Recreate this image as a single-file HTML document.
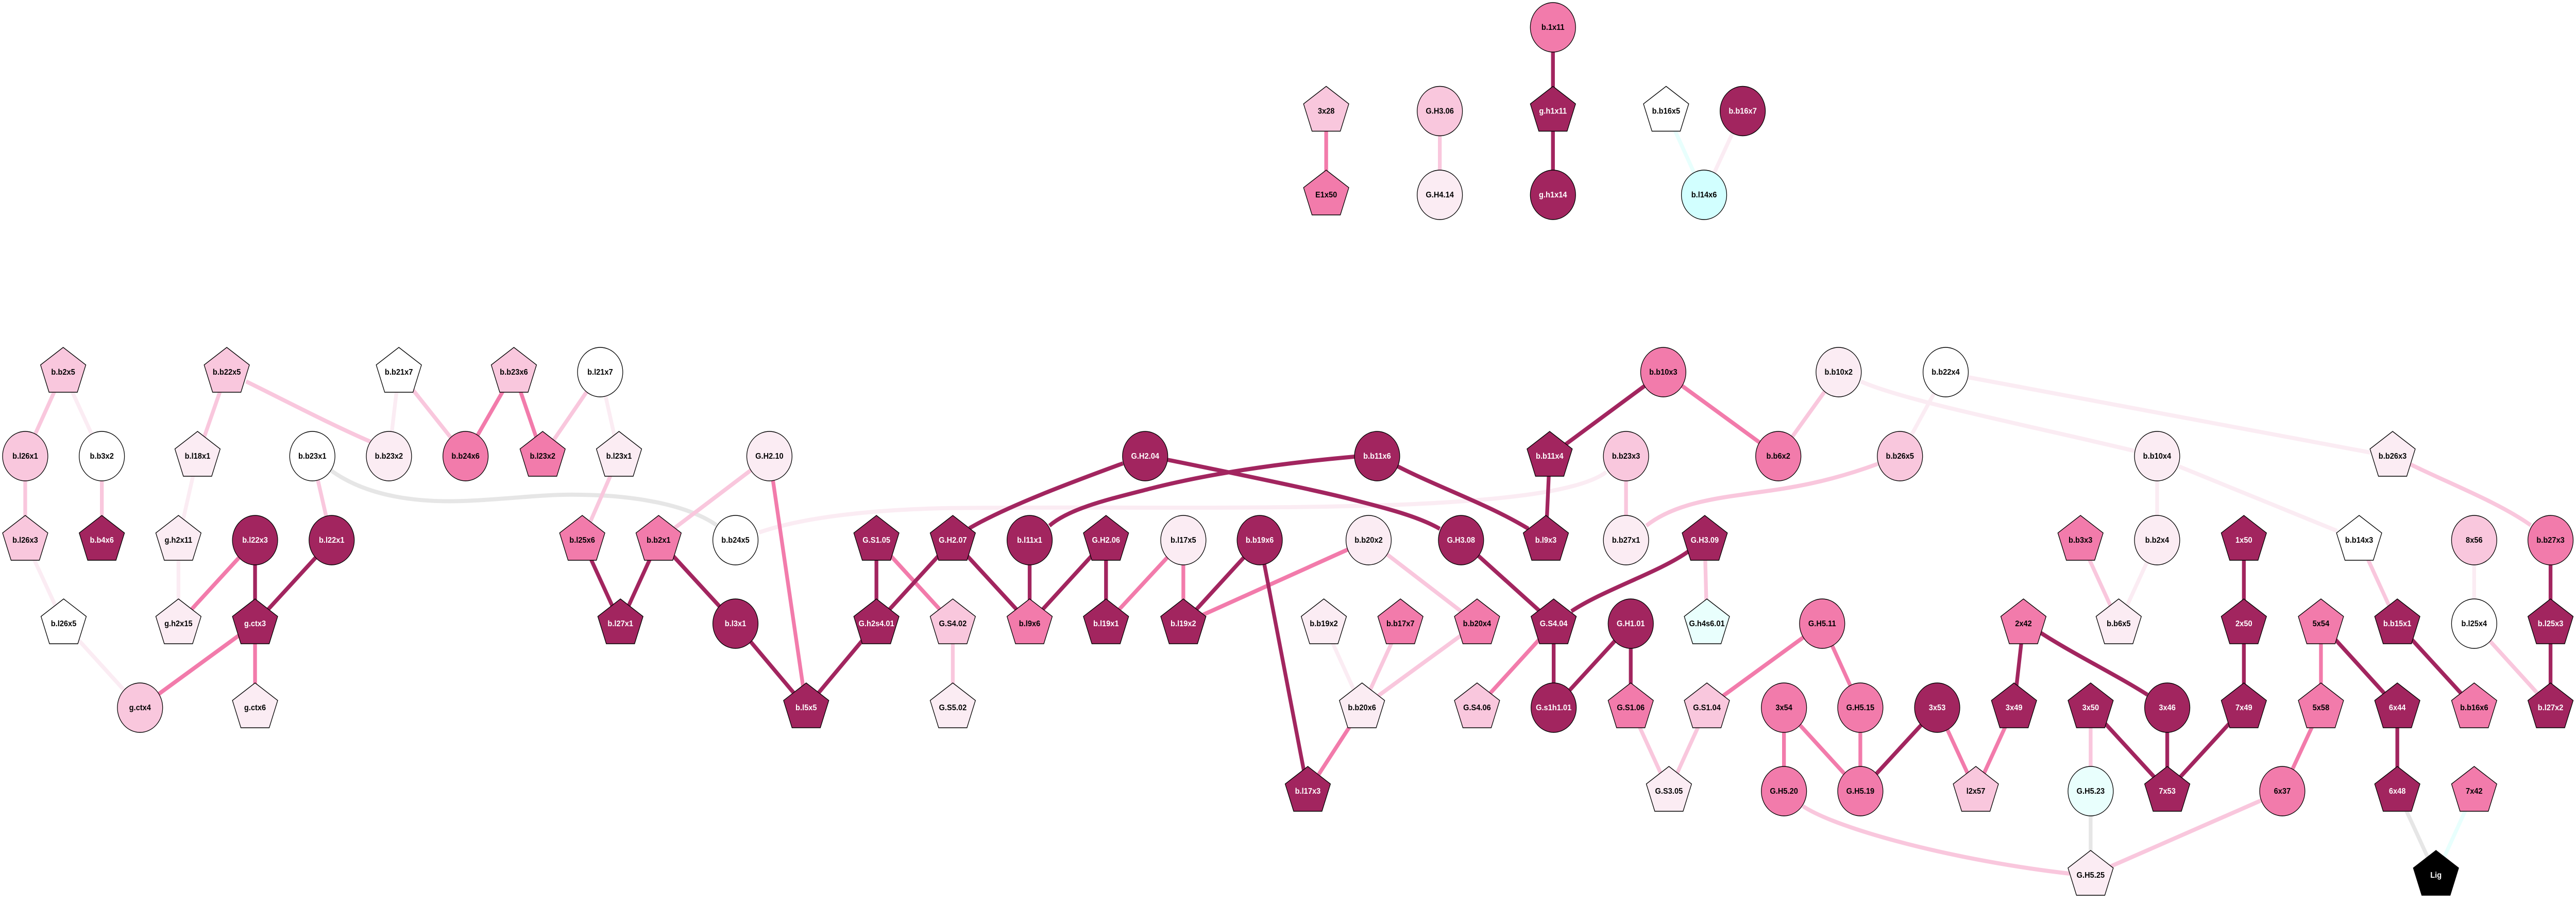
<!DOCTYPE html>
<html><head><meta charset="utf-8">
<style>
html,body{margin:0;padding:0;background:#fff;overflow:hidden;width:100%;height:100%}
svg{display:block;width:100vw;height:100vh}
text{font-family:"Liberation Sans",Arial,sans-serif;font-weight:700;font-size:16px;text-anchor:middle;fill:#000}
.e{fill:none;stroke-width:8}
.n{stroke:#000;stroke-width:1.4}
.d{fill:#a2255f}.k{fill:#f27bab}.l{fill:#f9c7dd}.p{fill:#fbecf3}.w{fill:#fff}.c{fill:#d2ffff}.m{fill:#e9fffd}.b{fill:#000}
text.t{fill:#fff}
</style></head><body>
<svg xmlns="http://www.w3.org/2000/svg" viewBox="0 0 5464 1752" preserveAspectRatio="none">
<rect width="5464" height="1752" fill="#fff"/>
<defs>
<polygon id="q" points="0,-48 48,-14 30,39 -30,39 -48,-14"/>
<circle id="o" r="48"/>
</defs>

<path class="e" stroke="#e6e6e6" d="M701 912C780 965 890 975 982 972C1065 970 1150 958 1232 960C1330 961 1450 975 1520 1019M4434.5 1535L4434.5 1698M5085 1535L5167 1698"/>
<path class="e" stroke="#e8fffd" d="M3534 215.5L3614.5 378M5248 1535L5167 1698"/>
<path class="e" stroke="#fbecf3" d="M3696.5 215.5L3614.5 378M134 722L216 885M53.5 1048L135 1210M135 1210L297 1373M419 885L378.5 1048M378.5 1048L378.5 1210M846 722L825 885M1273 722L1313 885M1610 1033C1700 1005 1830 990 2000 986C2300 982 2700 990 3000 978C3180 970 3350 955 3407 916M2808 1210L2889 1373M3947 740C4040 778 4300 825 4528 875M4127 722L4030 885M4175 732L5028 878M4575.5 885L4575.5 1048M4622 905L4957 1030M4575.5 1048L4494 1210M5248 1048L5248 1210"/>
<path class="e" stroke="#f9c7dd" d="M3054 215.5L3054 378M134 722L53.5 885M53.5 885L53.5 1048M216 885L216 1048M481 722L419 885M522 740C600 775 700 823 786 857M662.5 885L703.5 1048M846 722L987.5 885M1273 722L1151 885M1313 885L1235 1048M1632 885L1397 1048M2021 1210L2021 1373M2903 1048L3133 1210M2970.5 1210L2889 1373M3133 1210L2889 1373M3772 885L3900 722M3449 885L3449 1048M3983 900C3850 945 3760 950 3693 960C3610 970 3540 985 3492 1020M3616 1048L3620.5 1210M3459 1373L3540 1535M3620.5 1373L3540 1535M3824 1564C3900 1610 4150 1670 4390 1695M4841 1535L4434.5 1698M4413 1048L4494 1210M4434.5 1373L4434.5 1535M5004 1048L5085 1210M5248 1210L5410 1373M5113 901C5200 940 5300 975 5368 1019"/>
<path class="e" stroke="#f27bab" d="M2813 215.5L2813 378M541 1048L378.5 1210M541 1210L297 1373M541 1210L541 1373M1090 722L987.5 885M1090 722L1151 885M1632 885L1710 1373M1859 1048L2021 1210M2510 1048L2346 1210M2510 1048L2510 1210M2903 1048L2510 1210M2889 1373L2774 1535M3528 722L3772 885M3295.5 1210L3133 1373M3865 1210L3620.5 1373M3865 1210L3946 1373M3946 1373L3946 1535M3784 1373L3946 1535M3784 1373L3784 1535M4109 1373L4191 1535M4272 1373L4191 1535M4923 1210L4923 1373M4923 1373L4841 1535"/>
<path class="e" stroke="#a2255f" d="M3294 53L3294 215.5L3294 378M541 1048L541 1210M703.5 1048L541 1210M1235 1048L1316 1210M1397 1048L1316 1210M1397 1048L1560 1210L1710 1373M1859 1210L1710 1373M1859 1048L1859 1210M2021 1048L1859 1210M2021 1048L2184 1210M2382 899C2290 930 2140 980 2056 1025M2476 892C2600 915 2760 945 2850 965C2950 988 3010 1003 3054 1026M2873 886C2700 900 2560 920 2440 948C2360 967 2270 985 2226 1020M2184 1048L2184 1210M2346 1048L2184 1210M2346 1048L2346 1210M2672 1048L2510 1210M2672 1048L2774 1535M2965 905C3050 945 3160 980 3242 1026M3287 885L3279 1048M3528 722L3287 885M3099 1048L3295.5 1210M3581 1070C3520 1110 3400 1145 3333 1186M3295.5 1210L3295.5 1373M3459 1210L3295.5 1373M3459 1210L3459 1373M4109 1373L3946 1535M4292 1210L4272 1373M4329 1228C4400 1270 4490 1310 4555 1348M4434.5 1373L4597 1535M4597 1373L4597 1535M4759.5 1373L4597 1535M4759.5 1048L4759.5 1373M4923 1210L5085 1373M5085 1373L5085 1535M5085 1210L5248 1373M5410 1048L5410 1373"/>

<use href="#q" x="2813" y="215.5" class="n l"/><text x="2813" y="220.5">3x28</text>
<use href="#q" x="2813" y="378" class="n k"/><text x="2813" y="383">E1x50</text>
<use href="#o" x="3054" y="215.5" class="n l"/><text x="3054" y="220.5">G.H3.06</text>
<use href="#o" x="3054" y="378" class="n p"/><text x="3054" y="383">G.H4.14</text>
<use href="#o" x="3294" y="53" class="n k"/><text x="3294" y="58">b.1x11</text>
<use href="#q" x="3294" y="215.5" class="n d"/><text class="t" x="3294" y="220.5">g.h1x11</text>
<use href="#o" x="3294" y="378" class="n d"/><text class="t" x="3294" y="383">g.h1x14</text>
<use href="#q" x="3534" y="215.5" class="n w"/><text x="3534" y="220.5">b.b16x5</text>
<use href="#o" x="3696.5" y="215.5" class="n d"/><text class="t" x="3696.5" y="220.5">b.b16x7</text>
<use href="#o" x="3614.5" y="378" class="n c"/><text x="3614.5" y="383">b.l14x6</text>

<use href="#q" x="134" y="722" class="n l"/><text x="134" y="727">b.b2x5</text>
<use href="#o" x="53.5" y="885" class="n l"/><text x="53.5" y="890">b.l26x1</text>
<use href="#o" x="216" y="885" class="n w"/><text x="216" y="890">b.b3x2</text>
<use href="#q" x="53.5" y="1048" class="n l"/><text x="53.5" y="1053">b.l26x3</text>
<use href="#q" x="216" y="1048" class="n d"/><text class="t" x="216" y="1053">b.b4x6</text>
<use href="#q" x="135" y="1210" class="n w"/><text x="135" y="1215">b.l26x5</text>
<use href="#o" x="297" y="1373" class="n l"/><text x="297" y="1378">g.ctx4</text>
<use href="#q" x="481" y="722" class="n l"/><text x="481" y="727">b.b22x5</text>
<use href="#q" x="419" y="885" class="n p"/><text x="419" y="890">b.l18x1</text>
<use href="#q" x="378.5" y="1048" class="n p"/><text x="378.5" y="1053">g.h2x11</text>
<use href="#q" x="378.5" y="1210" class="n p"/><text x="378.5" y="1215">g.h2x15</text>
<use href="#o" x="541" y="1048" class="n d"/><text class="t" x="541" y="1053">b.l22x3</text>
<use href="#o" x="703.5" y="1048" class="n d"/><text class="t" x="703.5" y="1053">b.l22x1</text>
<use href="#q" x="541" y="1210" class="n d"/><text class="t" x="541" y="1215">g.ctx3</text>
<use href="#q" x="541" y="1373" class="n p"/><text x="541" y="1378">g.ctx6</text>
<use href="#o" x="662.5" y="885" class="n w"/><text x="662.5" y="890">b.b23x1</text>
<use href="#o" x="825" y="885" class="n p"/><text x="825" y="890">b.b23x2</text>
<use href="#q" x="846" y="722" class="n w"/><text x="846" y="727">b.b21x7</text>
<use href="#o" x="987.5" y="885" class="n k"/><text x="987.5" y="890">b.b24x6</text>
<use href="#q" x="1090" y="722" class="n l"/><text x="1090" y="727">b.b23x6</text>
<use href="#q" x="1151" y="885" class="n k"/><text x="1151" y="890">b.l23x2</text>
<use href="#o" x="1273" y="722" class="n w"/><text x="1273" y="727">b.l21x7</text>
<use href="#q" x="1313" y="885" class="n p"/><text x="1313" y="890">b.l23x1</text>
<use href="#q" x="1235" y="1048" class="n k"/><text x="1235" y="1053">b.l25x6</text>
<use href="#q" x="1397" y="1048" class="n k"/><text x="1397" y="1053">b.b2x1</text>
<use href="#q" x="1316" y="1210" class="n d"/><text class="t" x="1316" y="1215">b.l27x1</text>
<use href="#o" x="1632" y="885" class="n p"/><text x="1632" y="890">G.H2.10</text>
<use href="#o" x="1560" y="1048" class="n w"/><text x="1560" y="1053">b.b24x5</text>
<use href="#o" x="1560" y="1210" class="n d"/><text class="t" x="1560" y="1215">b.l3x1</text>
<use href="#q" x="1710" y="1373" class="n d"/><text class="t" x="1710" y="1378">b.l5x5</text>
<use href="#q" x="1859" y="1048" class="n d"/><text class="t" x="1859" y="1053">G.S1.05</text>
<use href="#q" x="1859" y="1210" class="n d"/><text class="t" x="1859" y="1215">G.h2s4.01</text>
<use href="#q" x="2021" y="1048" class="n d"/><text class="t" x="2021" y="1053">G.H2.07</text>
<use href="#q" x="2021" y="1210" class="n l"/><text x="2021" y="1215">G.S4.02</text>
<use href="#q" x="2021" y="1373" class="n p"/><text x="2021" y="1378">G.S5.02</text>
<use href="#o" x="2429" y="885" class="n d"/><text class="t" x="2429" y="890">G.H2.04</text>
<use href="#o" x="2184" y="1048" class="n d"/><text class="t" x="2184" y="1053">b.l11x1</text>
<use href="#q" x="2184" y="1210" class="n k"/><text x="2184" y="1215">b.l9x6</text>
<use href="#q" x="2346" y="1048" class="n d"/><text class="t" x="2346" y="1053">G.H2.06</text>
<use href="#q" x="2346" y="1210" class="n d"/><text class="t" x="2346" y="1215">b.l19x1</text>
<use href="#o" x="2510" y="1048" class="n p"/><text x="2510" y="1053">b.l17x5</text>
<use href="#q" x="2510" y="1210" class="n d"/><text class="t" x="2510" y="1215">b.l19x2</text>
<use href="#o" x="2672" y="1048" class="n d"/><text class="t" x="2672" y="1053">b.b19x6</text>
<use href="#q" x="2774" y="1535" class="n d"/><text class="t" x="2774" y="1540">b.l17x3</text>
<use href="#o" x="2903" y="1048" class="n p"/><text x="2903" y="1053">b.b20x2</text>
<use href="#q" x="2808" y="1210" class="n p"/><text x="2808" y="1215">b.b19x2</text>
<use href="#q" x="2970.5" y="1210" class="n k"/><text x="2970.5" y="1215">b.b17x7</text>
<use href="#q" x="3133" y="1210" class="n k"/><text x="3133" y="1215">b.b20x4</text>
<use href="#q" x="2889" y="1373" class="n p"/><text x="2889" y="1378">b.b20x6</text>
<use href="#o" x="2921" y="885" class="n d"/><text class="t" x="2921" y="890">b.b11x6</text>
<use href="#o" x="3099" y="1048" class="n d"/><text class="t" x="3099" y="1053">G.H3.08</text>
<use href="#q" x="3287" y="885" class="n d"/><text class="t" x="3287" y="890">b.b11x4</text>
<use href="#q" x="3279" y="1048" class="n d"/><text class="t" x="3279" y="1053">b.l9x3</text>
<use href="#o" x="3528" y="722" class="n k"/><text x="3528" y="727">b.b10x3</text>
<use href="#o" x="3449" y="885" class="n l"/><text x="3449" y="890">b.b23x3</text>
<use href="#o" x="3449" y="1048" class="n p"/><text x="3449" y="1053">b.b27x1</text>
<use href="#o" x="3772" y="885" class="n k"/><text x="3772" y="890">b.b6x2</text>
<use href="#o" x="3900" y="722" class="n p"/><text x="3900" y="727">b.b10x2</text>
<use href="#o" x="4127" y="722" class="n w"/><text x="4127" y="727">b.b22x4</text>
<use href="#o" x="4030" y="885" class="n l"/><text x="4030" y="890">b.b26x5</text>
<use href="#q" x="3616" y="1048" class="n d"/><text class="t" x="3616" y="1053">G.H3.09</text>
<use href="#q" x="3295.5" y="1210" class="n d"/><text class="t" x="3295.5" y="1215">G.S4.04</text>
<use href="#o" x="3459" y="1210" class="n d"/><text class="t" x="3459" y="1215">G.H1.01</text>
<use href="#q" x="3620.5" y="1210" class="n m"/><text x="3620.5" y="1215">G.h4s6.01</text>
<use href="#o" x="3865" y="1210" class="n k"/><text x="3865" y="1215">G.H5.11</text>
<use href="#q" x="3133" y="1373" class="n l"/><text x="3133" y="1378">G.S4.06</text>
<use href="#o" x="3295.5" y="1373" class="n d"/><text class="t" x="3295.5" y="1378">G.s1h1.01</text>
<use href="#q" x="3459" y="1373" class="n k"/><text x="3459" y="1378">G.S1.06</text>
<use href="#q" x="3620.5" y="1373" class="n l"/><text x="3620.5" y="1378">G.S1.04</text>
<use href="#o" x="3784" y="1373" class="n k"/><text x="3784" y="1378">3x54</text>
<use href="#o" x="3946" y="1373" class="n k"/><text x="3946" y="1378">G.H5.15</text>
<use href="#o" x="4109" y="1373" class="n d"/><text class="t" x="4109" y="1378">3x53</text>
<use href="#q" x="3540" y="1535" class="n p"/><text x="3540" y="1540">G.S3.05</text>
<use href="#o" x="3784" y="1535" class="n k"/><text x="3784" y="1540">G.H5.20</text>
<use href="#o" x="3946" y="1535" class="n k"/><text x="3946" y="1540">G.H5.19</text>
<use href="#q" x="4191" y="1535" class="n l"/><text x="4191" y="1540">l2x57</text>
<use href="#q" x="5075" y="885" class="n p"/><text x="5075" y="890">b.b26x3</text>
<use href="#o" x="4575.5" y="885" class="n p"/><text x="4575.5" y="890">b.b10x4</text>
<use href="#q" x="4413" y="1048" class="n k"/><text x="4413" y="1053">b.b3x3</text>
<use href="#o" x="4575.5" y="1048" class="n p"/><text x="4575.5" y="1053">b.b2x4</text>
<use href="#q" x="4759.5" y="1048" class="n d"/><text class="t" x="4759.5" y="1053">1x50</text>
<use href="#q" x="5004" y="1048" class="n w"/><text x="5004" y="1053">b.b14x3</text>
<use href="#o" x="5248" y="1048" class="n l"/><text x="5248" y="1053">8x56</text>
<use href="#o" x="5410" y="1048" class="n k"/><text x="5410" y="1053">b.b27x3</text>
<use href="#q" x="4292" y="1210" class="n k"/><text x="4292" y="1215">2x42</text>
<use href="#q" x="4494" y="1210" class="n p"/><text x="4494" y="1215">b.b6x5</text>
<use href="#q" x="4759.5" y="1210" class="n d"/><text class="t" x="4759.5" y="1215">2x50</text>
<use href="#q" x="4923" y="1210" class="n k"/><text x="4923" y="1215">5x54</text>
<use href="#q" x="5085" y="1210" class="n d"/><text class="t" x="5085" y="1215">b.b15x1</text>
<use href="#o" x="5248" y="1210" class="n w"/><text x="5248" y="1215">b.l25x4</text>
<use href="#q" x="5410" y="1210" class="n d"/><text class="t" x="5410" y="1215">b.l25x3</text>
<use href="#q" x="4272" y="1373" class="n d"/><text class="t" x="4272" y="1378">3x49</text>
<use href="#q" x="4434.5" y="1373" class="n d"/><text class="t" x="4434.5" y="1378">3x50</text>
<use href="#o" x="4597" y="1373" class="n d"/><text class="t" x="4597" y="1378">3x46</text>
<use href="#q" x="4759.5" y="1373" class="n d"/><text class="t" x="4759.5" y="1378">7x49</text>
<use href="#q" x="4923" y="1373" class="n k"/><text x="4923" y="1378">5x58</text>
<use href="#q" x="5085" y="1373" class="n d"/><text class="t" x="5085" y="1378">6x44</text>
<use href="#q" x="5248" y="1373" class="n k"/><text x="5248" y="1378">b.b16x6</text>
<use href="#q" x="5410" y="1373" class="n d"/><text class="t" x="5410" y="1378">b.l27x2</text>
<use href="#o" x="4434.5" y="1535" class="n m"/><text x="4434.5" y="1540">G.H5.23</text>
<use href="#q" x="4597" y="1535" class="n d"/><text class="t" x="4597" y="1540">7x53</text>
<use href="#o" x="4841" y="1535" class="n k"/><text x="4841" y="1540">6x37</text>
<use href="#q" x="5085" y="1535" class="n d"/><text class="t" x="5085" y="1540">6x48</text>
<use href="#q" x="5248" y="1535" class="n k"/><text x="5248" y="1540">7x42</text>
<use href="#q" x="4434.5" y="1698" class="n p"/><text x="4434.5" y="1703">G.H5.25</text>
<use href="#q" x="5167" y="1698" class="n b"/><text class="t" x="5167" y="1703">Lig</text>
</svg>
</body></html>
